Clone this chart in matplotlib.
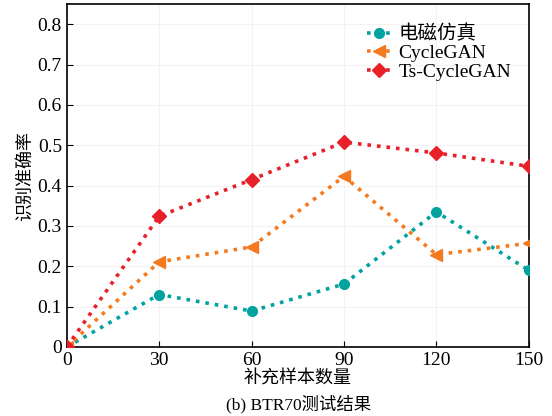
import matplotlib.pyplot as plt

plt.rcParams['font.family'] = ['Liberation Serif', 'Noto Sans CJK SC']
plt.rcParams['axes.unicode_minus'] = False

samples = [0, 30, 60, 90, 120, 150]
em_sim = [0, 0.13, 0.089, 0.156, 0.335, 0.19]
cyclegan = [0, 0.211, 0.248, 0.423, 0.229, 0.257]
ts_cyclegan = [0, 0.324, 0.415, 0.508, 0.481, 0.448]
labels = ["电磁仿真", "CycleGAN", "Ts-CycleGAN"]
yticks = [0, 0.1, 0.2, 0.3, 0.4, 0.5, 0.6, 0.7, 0.8]
ytick_labels = ["0", "0.1", "0.2", "0.3", "0.4", "0.5", "0.6", "0.7", "0.8"]

fig = plt.figure(figsize=(5.52, 4.16), dpi=100)
ax = fig.add_axes([0.121, 0.166, 0.837, 0.824])

ax.plot(samples, em_sim, linestyle=':', linewidth=2.6, color='#00A3A0',
        marker='o', markersize=7, label=labels[0], zorder=3)
ax.plot(samples, cyclegan, linestyle=':', linewidth=2.6, color='#F47A1F',
        marker='<', markersize=8, label=labels[1], zorder=3)
ax.plot(samples, ts_cyclegan, linestyle=':', linewidth=2.6, color='#E8202A',
        marker='D', markersize=7, label=labels[2], zorder=3)

ax.set_xlim(0, 150)
ax.set_ylim(0, 0.85)
ax.set_xticks(samples)
ax.set_yticks(yticks)
ax.set_yticklabels(ytick_labels)
ax.tick_params(direction='in', labelsize=14, length=4)
ax.grid(True, color='#f3f3f3', linewidth=0.8)
for s in ax.spines.values():
    s.set_linewidth(1.2)

ax.set_ylabel("识别准确率", fontsize=13, labelpad=3)
ax.set_xlabel("补充样本数量", fontsize=13, labelpad=1)
fig.text(0.54, 0.015, "(b) BTR70测试结果", fontsize=12.5, ha='center')

ax.legend(loc='upper right', frameon=False, fontsize=14, handlelength=1.2,
          handletextpad=0.4, labelspacing=0.05, borderaxespad=0.5,
          bbox_to_anchor=(1.0, 0.99))

fig.savefig("out.png", dpi=100)
